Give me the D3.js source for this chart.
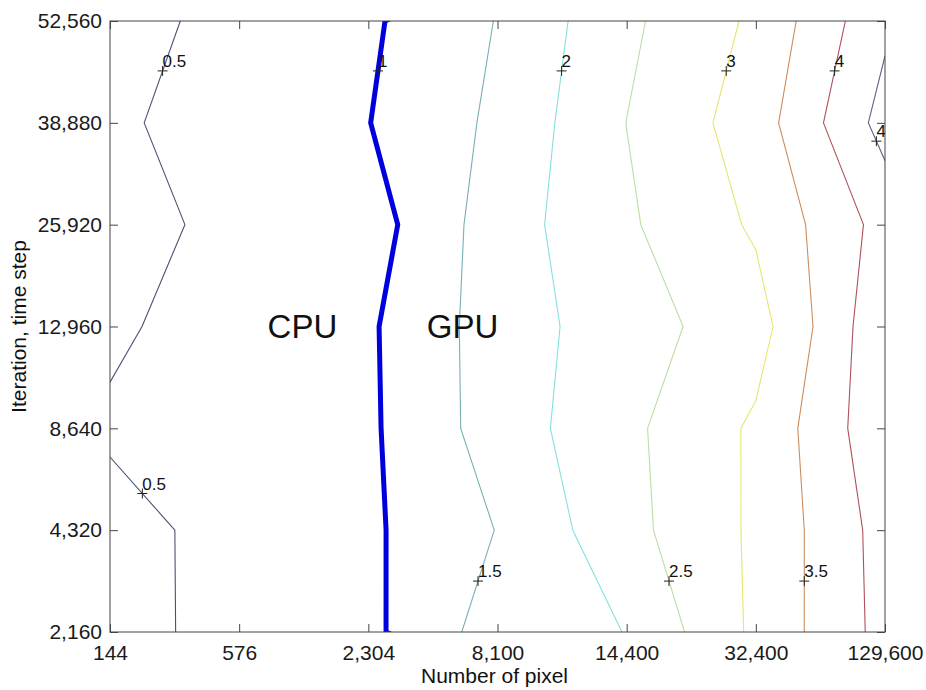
<!DOCTYPE html>
<html>
<head>
<meta charset="utf-8">
<script src="https://cdn.jsdelivr.net/npm/d3@7"></script>
<style>
  body { margin: 0; background: #fff; }
  text { font-family: "Liberation Sans", Arial, sans-serif; fill: #111; }
</style>
</head>
<body>
<svg id="chart" width="926" height="690"></svg>
<script>
// Category ticks (evenly spaced, as in the original contour plot)
const xLabels = ["144", "576", "2,304", "8,100", "14,400", "32,400", "129,600"];
const yLabels = ["2,160", "4,320", "8,640", "12,960", "25,920", "38,880", "52,560"];

// GPU / CPU speed ratio, one array per iteration count, one value per pixel count
const ratio2160  = [0.376, 0.620, 0.883, 1.736, 2.010, 3.103, 4.162];
const ratio4320  = [0.375, 0.624, 0.918, 1.515, 2.347, 3.085, 4.191];
const ratio8640  = [0.549, 0.720, 0.920, 1.731, 2.388, 3.080, 4.373];
const ratio12960 = [0.441, 0.679, 0.933, 1.738, 2.279, 2.785, 4.400];
const ratio25920 = [0.362, 0.600, 0.778, 1.753, 2.430, 3.070, 4.186];
const ratio38880 = [0.410, 0.750, 0.989, 1.597, 2.505, 3.246, 4.686];
const ratio52560 = [0.321, 0.650, 0.923, 1.519, 2.399, 3.090, 4.403];

// Contour levels and their line colours
const levels = [0.5, 1, 1.5, 2, 2.5, 3, 3.5, 4, 4.5];
const levelColors = ["#4e4e72", "#0000dd", "#78b0b4", "#86e0e0", "#b9e0a4",
                     "#e6e66e", "#cc8c5c", "#b0505a", "#6e5c84"];

// Contour labels: level and the height (in y-category units) where it sits
const labelLevels = [0.5, 1, 2, 3, 4, 4.5, 0.5, 1.5, 2.5, 3.5];
const labelRows   = [5.51, 5.51, 5.51, 5.51, 5.51, 4.82, 1.36, 0.5, 0.5, 0.5];

// Region annotations
const regionNames = ["CPU", "GPU"];
const regionX = [1.49, 2.73];   // in x-category units
const regionY = [2.89, 2.89];   // in y-category units

// Sizes
const margin = { top: 21, right: 41, bottom: 58, left: 110 };
const width = 926 - margin.left - margin.right;
const height = 690 - margin.top - margin.bottom;

const svg = d3.select("#chart")
  .append("g")
  .attr("transform", `translate(${margin.left},${margin.top})`);

// Axis scales (categories) and grid scales for d3.contours (cell i sits at i + 0.5)
const x = d3.scalePoint().domain(xLabels).range([0, width]);
const y = d3.scalePoint().domain(yLabels).range([height, 0]);
const gx = d3.scaleLinear().domain([0.5, xLabels.length - 0.5]).range([0, width]);
const gy = d3.scaleLinear().domain([0.5, yLabels.length - 0.5]).range([height, 0]);

// Build the grid, bottom row first
const grid = [ratio2160, ratio4320, ratio8640, ratio12960, ratio25920, ratio38880, ratio52560];
const values = grid.flat();

const contours = d3.contours()
  .size([xLabels.length, yLabels.length])
  .thresholds(levels)(values);

const path = d3.geoPath(d3.geoTransform({
  point: function (px, py) { this.stream.point(gx(px), gy(py)); }
}));

svg.append("clipPath").attr("id", "plot-clip")
  .append("rect").attr("width", width).attr("height", height);

// Contour lines
svg.append("g")
  .attr("clip-path", "url(#plot-clip)")
  .selectAll("path")
  .data(contours)
  .join("path")
  .attr("d", path)
  .attr("fill", "none")
  .attr("stroke", (d, i) => levelColors[i])
  .attr("stroke-width", d => d.value === 1 ? 5 : 1.1)
  .attr("stroke-linejoin", "round");

// Axes with inward ticks on all four sides
const axisColor = "#444";
const styleAxis = g => {
  g.attr("color", axisColor)
    .attr("font-size", 21)
    .attr("font-family", "'Liberation Sans', Arial, sans-serif");
  g.select(".domain").remove();
  g.selectAll("text").style("fill", "#1a1a1a");
};

svg.append("g")
  .attr("transform", `translate(0,${height})`)
  .call(d3.axisBottom(x).tickSizeInner(-8).tickSizeOuter(0).tickPadding(13))
  .call(styleAxis);

svg.append("g")
  .call(d3.axisLeft(y).tickSizeInner(-8).tickSizeOuter(0).tickPadding(8))
  .call(styleAxis);

svg.append("g")
  .call(d3.axisTop(x).tickSizeInner(-8).tickSizeOuter(0).tickFormat(""))
  .call(styleAxis);

svg.append("g")
  .attr("transform", `translate(${width},0)`)
  .call(d3.axisRight(y).tickSizeInner(-8).tickSizeOuter(0).tickFormat(""))
  .call(styleAxis);

// Box
svg.append("rect")
  .attr("width", width)
  .attr("height", height)
  .attr("fill", "none")
  .attr("stroke", axisColor)
  .attr("stroke-width", 1);

// Find where a contour crosses a given height (grid coords)
function crossingX(geom, yGrid) {
  for (const poly of geom.coordinates) {
    for (const ring of poly) {
      for (let k = 1; k < ring.length; k++) {
        const [x0, y0] = ring[k - 1], [x1, y1] = ring[k];
        if (y0 === y1 || (y0 - yGrid) * (y1 - yGrid) > 0) continue;
        const xc = x0 + (yGrid - y0) / (y1 - y0) * (x1 - x0);
        if (xc > 0.5 && xc < xLabels.length - 0.5) return xc;
      }
    }
  }
  return null;
}

const labels = labelLevels.map((lv, i) => {
  const geom = contours[levels.indexOf(lv)];
  const yGrid = labelRows[i] + 0.5;
  return { text: String(lv), px: gx(crossingX(geom, yGrid)), py: gy(yGrid) };
});

const labelG = svg.append("g").attr("clip-path", "url(#plot-clip)");

labelG.selectAll("path")
  .data(labels)
  .join("path")
  .attr("d", d => `M${d.px - 5},${d.py}h10M${d.px},${d.py - 5}v10`)
  .attr("stroke", "#222")
  .attr("stroke-width", 1);

labelG.selectAll("text")
  .data(labels)
  .join("text")
  .attr("x", d => d.px)
  .attr("y", d => d.py - 4)
  .attr("font-size", 17)
  .text(d => d.text);

// CPU / GPU annotations
svg.selectAll(".region")
  .data(regionNames)
  .join("text")
  .attr("class", "region")
  .attr("x", (d, i) => gx(regionX[i] + 0.5))
  .attr("y", (d, i) => gy(regionY[i] + 0.5))
  .attr("text-anchor", "middle")
  .attr("font-size", 33)
  .text(d => d);

// Axis titles
svg.append("text")
  .attr("x", width / 2 - 3)
  .attr("y", height + 51)
  .attr("text-anchor", "middle")
  .attr("font-size", 21)
  .text("Number of pixel");

svg.append("text")
  .attr("transform", `translate(${26 - margin.left},${height / 2}) rotate(-90)`)
  .attr("text-anchor", "middle")
  .attr("font-size", 21)
  .text("Iteration, time step");
</script>
</body>
</html>
